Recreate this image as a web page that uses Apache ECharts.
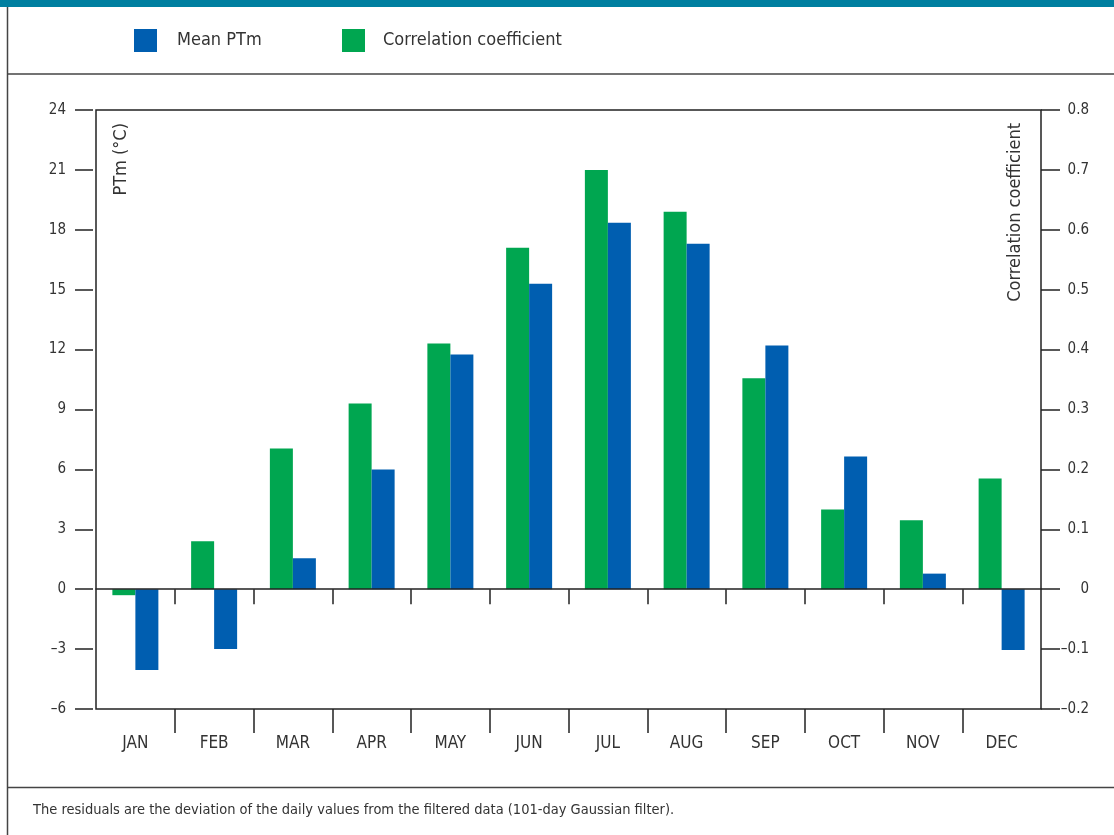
<!DOCTYPE html>
<html>
<head>
<meta charset="utf-8">
<script src="https://cdn.jsdelivr.net/npm/echarts@6/dist/echarts.min.js"></script>
<style>html,body{margin:0;padding:0;background:#fff}#c{width:1114px;height:835px}</style>
</head>
<body>
<div id="c"></div>
<script>
const months = ['JAN','FEB','MAR','APR','MAY','JUN','JUL','AUG','SEP','OCT','NOV','DEC'];
const meanPTm = [-4.05, -3.0, 1.55, 6.0, 11.75, 15.3, 18.35, 17.3, 12.2, 6.65, 0.78, -3.05];
const corrCoef = [-0.01, 0.08, 0.235, 0.31, 0.41, 0.57, 0.70, 0.63, 0.352, 0.133, 0.115, 0.185];
const leftAxis = {min: -6, max: 24, interval: 3};
const rightAxis = {min: -0.2, max: 0.8, interval: 0.1};
const seriesNames = ['Mean PTm', 'Correlation coefficient'];
const leftAxisName = 'PTm (°C)';
const rightAxisName = 'Correlation coefficient';
const footnote = 'The residuals are the deviation of the daily values from the filtered data (101-day Gaussian filter).';

const FONT = "'Liberation Sans Narrow', 'DejaVu Sans Condensed', 'Liberation Sans', sans-serif";
const TXT = '#333';
const LINE = '#222';
const BLUE = '#005eb0';
const GREEN = '#00a650';
const boundaries = months.map((m, i) => 'b' + i).concat(['b' + months.length]);
const innerTick = (i) => i > 0 && i < months.length;
const fmt = (v) => String(Math.round(v * 10) / 10).replace('-', '\u2013');

const chart = echarts.init(document.getElementById('c'), null, {renderer: 'canvas'});
chart.setOption({
  backgroundColor: '#fff',
  animation: false,
  textStyle: {fontFamily: FONT},
  legend: [
    {data: [seriesNames[0]], left: 134, top: 29, padding: 0, itemWidth: 23, itemHeight: 23, icon: 'rect',
     textStyle: {fontFamily: FONT, fontSize: 18, color: TXT, padding: [0, 0, 0, 15]}},
    {data: [seriesNames[1]], left: 342, top: 29, padding: 0, itemWidth: 23, itemHeight: 23, icon: 'rect',
     textStyle: {fontFamily: FONT, fontSize: 18, color: TXT, padding: [0, 0, 0, 13]}}
  ],
  grid: {left: 96, right: 73, top: 110, bottom: 126, show: true, borderColor: LINE, borderWidth: 1.5, backgroundColor: 'transparent'},
  xAxis: [
    {type: 'category', data: months, position: 'bottom', boundaryGap: true,
     axisLine: {show: false, onZero: false}, axisTick: {show: false},
     axisLabel: {margin: 26, fontSize: 17, color: TXT, fontFamily: FONT}},
    {type: 'category', data: boundaries, position: 'bottom', boundaryGap: false,
     axisLine: {show: false, onZero: false},
     axisTick: {show: true, length: 24, interval: innerTick, lineStyle: {color: LINE, width: 1.5}},
     axisLabel: {show: false}},
    {type: 'category', data: boundaries, position: 'bottom', boundaryGap: false, z: 5,
     axisLine: {show: true, onZero: true, onZeroAxisIndex: 0, lineStyle: {color: LINE, width: 1.5}},
     axisTick: {show: true, length: 15, interval: innerTick, lineStyle: {color: LINE, width: 1.5}},
     axisLabel: {show: false}}
  ],
  yAxis: [
    {type: 'value', position: 'left', min: leftAxis.min, max: leftAxis.max, interval: leftAxis.interval, offset: 3,
     axisLine: {show: false}, splitLine: {show: false},
     axisTick: {show: true, length: 18, lineStyle: {color: LINE, width: 1.5}},
     axisLabel: {margin: 27, fontSize: 15, color: TXT, fontFamily: FONT, formatter: fmt}},
    {type: 'value', position: 'right', min: rightAxis.min, max: rightAxis.max, interval: rightAxis.interval,
     axisLine: {show: false}, splitLine: {show: false},
     axisTick: {show: true, length: 19, lineStyle: {color: LINE, width: 1.5}},
     axisLabel: {margin: 48, align: 'right', fontSize: 15, color: TXT, fontFamily: FONT, formatter: fmt}}
  ],
  series: [
    {name: seriesNames[1], type: 'bar', xAxisIndex: 0, yAxisIndex: 1, data: corrCoef,
     barWidth: 23, barGap: '0%', itemStyle: {color: GREEN}},
    {name: seriesNames[0], type: 'bar', xAxisIndex: 0, yAxisIndex: 0, data: meanPTm,
     barWidth: 23, barGap: '0%', itemStyle: {color: BLUE}}
  ],
  graphic: [
    {type: 'rect', left: 0, top: 0, shape: {width: 1114, height: 7}, style: {fill: '#007fa0'}},
    {type: 'line', shape: {x1: 7.5, y1: 7, x2: 7.5, y2: 835}, style: {stroke: '#444', lineWidth: 1.5}},
    {type: 'line', shape: {x1: 7, y1: 74, x2: 1114, y2: 74}, style: {stroke: '#444', lineWidth: 1.5}},
    {type: 'line', shape: {x1: 7, y1: 787.5, x2: 1114, y2: 787.5}, style: {stroke: '#444', lineWidth: 1.5}},
    {type: 'text', x: 121, y: 123, rotation: Math.PI / 2,
     style: {text: leftAxisName, fill: TXT, font: '18px ' + FONT, textAlign: 'right', textVerticalAlign: 'middle'}},
    {type: 'text', x: 1015, y: 123, rotation: Math.PI / 2,
     style: {text: rightAxisName, fill: TXT, font: '18px ' + FONT, textAlign: 'right', textVerticalAlign: 'middle'}},
    {type: 'text', x: 33, y: 810,
     style: {text: footnote, fill: TXT, font: '14.5px ' + FONT, textAlign: 'left', textVerticalAlign: 'middle'}}
  ]
});
</script>
</body>
</html>
